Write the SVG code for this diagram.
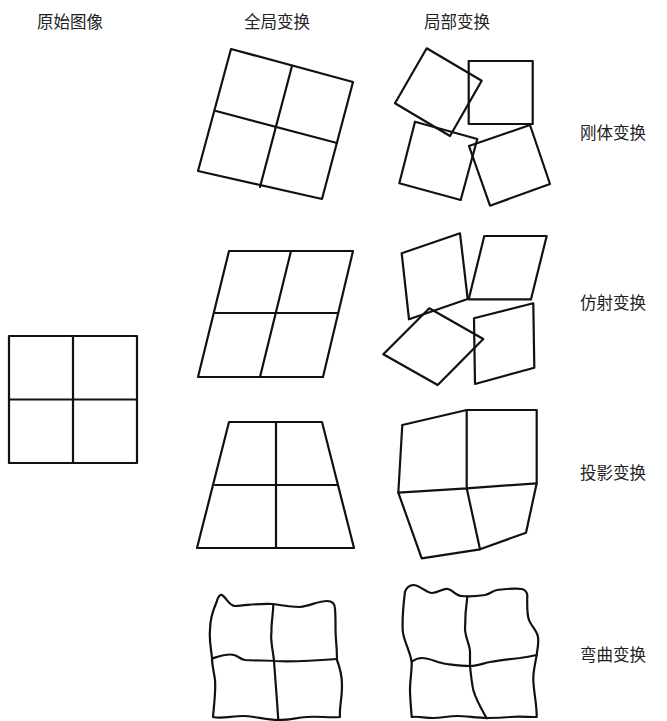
<svg xmlns="http://www.w3.org/2000/svg" width="667" height="721" viewBox="0 0 667 721">
<style>
.s{fill:none;stroke:#111;stroke-width:2.2;stroke-linejoin:round;stroke-linecap:round}
.t{font-family:"Noto Sans CJK SC","Noto Sans CJK JP",sans-serif;font-size:16.5px;fill:#222}
</style>
<rect width="667" height="721" fill="#fff"/>
<g id="labels">
<text class="t" x="70" y="28" text-anchor="middle">原始图像</text>
<text class="t" x="277" y="28" text-anchor="middle">全局变换</text>
<text class="t" x="457" y="28" text-anchor="middle">局部变换</text>
<text class="t" x="580" y="139">刚体变换</text>
<text class="t" x="580" y="309">仿射变换</text>
<text class="t" x="580" y="479">投影变换</text>
<text class="t" x="580" y="661">弯曲变换</text>
</g>
<g id="original" class="s">
<rect x="9" y="336" width="128" height="127"/>
<line x1="73" y1="336" x2="73" y2="463"/>
<line x1="9" y1="399.5" x2="137" y2="399.5"/>
</g>
<g id="global-rigid" class="s">
<polygon points="231,49 353,82 322,199 198,171"/>
<line x1="292" y1="66" x2="260" y2="187"/>
<line x1="216" y1="111" x2="337" y2="143"/>
</g>
<g id="local-rigid" class="s">
<polygon points="426.7,48.3 481.7,80.7 450,136 395,103.3"/>
<polygon points="468.7,61 532.7,61 532.7,124 468.7,124"/>
<polygon points="415,121.7 477.3,139 460.7,200 399.3,183.3"/>
<polygon points="469,146 530,125 550,184 490,205.7"/>
</g>
<g id="global-affine" class="s">
<polygon points="229,251 353,251 323,377 198,377"/>
<line x1="291" y1="251" x2="260" y2="377"/>
<line x1="215" y1="313" x2="338" y2="313"/>
</g>
<g id="local-affine" class="s">
<polygon points="401.7,253.3 460,233.3 467.7,299 409,319.3"/>
<polygon points="484.3,236 546.7,236 531,299.3 468.7,299.3"/>
<polygon points="429.3,308.3 483.3,339 437.7,385 383.3,354.3"/>
<polygon points="474,318.3 533.3,303.3 534.3,367.7 475,384"/>
</g>
<g id="global-projective" class="s">
<polygon points="229,422 322,422 354,548 197,548"/>
<line x1="276" y1="422" x2="276" y2="548"/>
<line x1="215" y1="485" x2="338" y2="485"/>
</g>
<g id="local-projective" class="s">
<path d="M402.3,425 L466.7,410 L536.7,410 L536.7,483.3 L526,532.7 L480,549.3 L421.7,558.3 L398.3,492.7 Z"/>
<path d="M466.7,410 L466.7,488.3 L480,549.3 M398.3,492.7 L466.7,488.3 L536.7,483.3"/>
</g>
<g id="global-warp" class="s">
<path d="M216.7,601.7 C218,597 220,594 222,595 C226,597 229,606 235,606 C250,605 262,603 273,604 C285,606 292,607 300,607 C310,606 318,601 327,601 C332,601 335,604 335,609 C336,620 335,628 336,640 C337,650 337,656 337,660 C340,668 342,676 342,685 C342,700 339,708 340,717 C330,718 318,716 307,717 C295,718 288,720 278,720 C265,720 255,716 243,716 C232,716 222,719 213,717 C214,705 216,690 215,680 C214,672 212,665 212,658 C211,648 209,640 210,630 C210,620 213,610 216.7,601.7 Z"/>
<path d="M212.7,658.3 C220,656 228,653 234,655 C238,656 240,659 245,660 C255,661 265,660 275,661 C290,662 310,661 337,659"/>
<path d="M273.3,605 C273,615 271,625 271.5,632 C270,640 273,650 274,661 C275,675 277,700 278.3,720"/>
</g>
<g id="local-warp" class="s">
<path d="M405,591.7 C406,588 410,585 413.3,585 C420,585 426,593 432,593 C438,593 443,588 448,589 C453,590 456,596 462,596 C470,597 478,596 485,595 C490,594 492,591 497,590 C505,589 515,588 522,589 C526,590 527,593 527.3,595 C527,605 527,615 529,620 C531,626 537,630 538,637 C539,645 537,650 536.7,655 C535,665 533,672 533.3,680 C534,695 537,705 536.7,717 C528,717 518,716 510,717 C500,718 495,718 487,718 C477,718 466,716 457,716 C448,716 442,718 433,718 C425,718 418,716 411.7,717 C411,707 410,698 410,690 C410,680 412,670 411.7,662 C410,650 403,640 402.7,630 C402,615 404,600 405,591.7 Z"/>
<path d="M411.7,661.7 C414,660 418,658 422,658 C430,658 438,663 447,664 C455,665 462,666 470,666 C478,666 484,663 490,662 C500,660 510,659 520,658 C527,657 532,656 536.7,655"/>
<path d="M467.3,596.7 C466,606 465,618 465,630 C466,640 470,645 470,652 C470,660 470,663 470,666 C471,676 472,684 473.3,690 C476,700 482,710 486.7,718.3"/>
</g>
</svg>
